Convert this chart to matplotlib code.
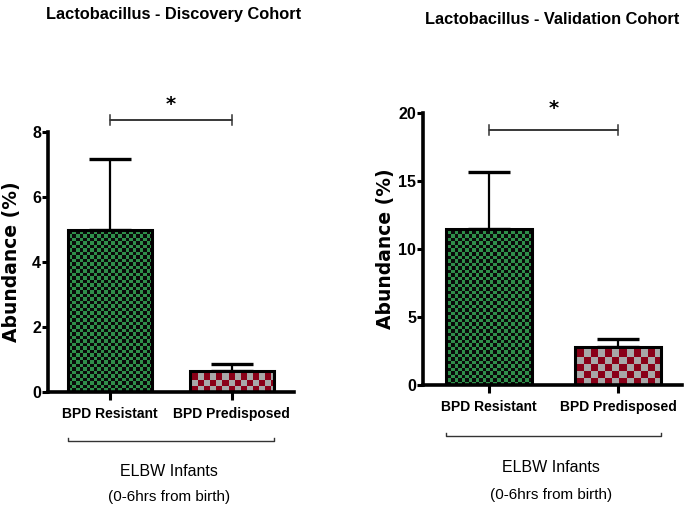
import numpy as np
import matplotlib
matplotlib.use('Agg')
import matplotlib.pyplot as plt
import matplotlib.transforms as mtransforms

# data
groups = ['BPD Resistant', 'BPD Predisposed']
disc_mean = [5.0, 0.65]
disc_err = [2.17, 0.21]
val_mean = [11.47, 2.82]
val_err = [4.19, 0.56]
disc_ticks = [0, 2, 4, 6, 8]
val_ticks = [0, 5, 10, 15, 20]

NARROW = ['Liberation Sans', 'DejaVu Sans']
WIDE = ['DejaVu Sans']

GREEN = ('#2f8f4a', '#0a0a0a')
RED = ('#8a0018', '#a8a8a8')

fig = plt.figure(figsize=(6.85, 5.16), dpi=100)


def checker(ax, bar, colors, cell):
    fig.canvas.draw()
    bb = ax.get_window_extent()
    nx = int(bb.width / cell) + 1
    ny = int(bb.height / cell) + 1
    yy, xx = np.mgrid[0:ny, 0:nx]
    pat = ((xx + yy) % 2).astype(float)
    cmap = matplotlib.colors.ListedColormap(list(colors))
    im = ax.imshow(pat, cmap=cmap, extent=(0, nx * cell / bb.width, 0, ny * cell / bb.height),
                   transform=ax.transAxes, aspect='auto', interpolation='nearest',
                   origin='lower', zorder=2)
    im.set_clip_path(bar)


def panel(rect, means, errs, ticks, title, title_xy, ylab_x, star_y, bracket_y, xlim, width, cells):
    ax = fig.add_axes(rect)
    x = np.arange(len(groups))
    ax.errorbar(x, means, yerr=[np.zeros(len(errs)), errs], fmt='none', ecolor='black',
                elinewidth=1.6, capsize=15, capthick=2.4, zorder=1)
    bars = ax.bar(x, means, width=width, facecolor='none', edgecolor='black', linewidth=2.2, zorder=3)
    ax.set_xlim(*xlim)
    ax.set_ylim(ticks[0], ticks[-1])
    ax.set_yticks(ticks)
    ax.set_yticklabels([str(t) for t in ticks], family=NARROW, fontweight='bold', fontsize=11.5)
    ax.set_xticks(x)
    ax.set_xticklabels(groups, family=NARROW, fontweight='bold', fontsize=10)
    ax.tick_params(axis='y', length=4, width=2.2, pad=1)
    ax.tick_params(axis='x', length=6, width=2.2, pad=5)
    for s in ['top', 'right']:
        ax.spines[s].set_visible(False)
    for s in ['left', 'bottom']:
        ax.spines[s].set_linewidth(2.6)
    fig.canvas.draw()
    for b, c, cell in zip(bars, [GREEN, RED], cells):
        checker(ax, b, c, cell)

    # significance bracket
    h = (ticks[-1] - ticks[0]) * 0.018
    ax.plot([0, 0, 1, 1], [bracket_y - h, bracket_y, bracket_y, bracket_y - h],
            color='#333333', lw=1.1, clip_on=False)
    ax.plot([0, 0, 1, 1], [bracket_y + h, bracket_y, bracket_y, bracket_y + h],
            color='#333333', lw=1.1, clip_on=False)
    ax.text(0.5, star_y, '*', ha='center', va='center', fontsize=14, fontweight='bold',
            family=WIDE, clip_on=False)

    # group bracket below
    tr = mtransforms.blended_transform_factory(ax.transData, ax.transAxes)
    x0, x1 = -width / 2, 1 + width / 2
    ax.plot([x0, x0, x1, x1], [-0.178, -0.188, -0.188, -0.178], color='#333333', lw=1.0,
            transform=tr, clip_on=False)
    ax.text(0.48, -0.305, 'ELBW Infants', transform=tr, ha='center', va='center',
            family=NARROW, fontsize=11.5)
    ax.text(0.48, -0.405, '(0-6hrs from birth)', transform=tr, ha='center', va='center',
            family=NARROW, fontsize=11)

    fig.text(title_xy[0], title_xy[1], title, ha='center', va='center', family=NARROW,
             fontweight='bold', fontsize=11.8)
    fig.text(ylab_x, rect[1] + rect[3] / 2, 'Abundance (%)', rotation=90, ha='center',
             va='center', family=WIDE, fontweight='bold', fontsize=13.5)
    return ax


panel([48 / 685, 124 / 516, 246 / 685, 260 / 516], disc_mean, disc_err, disc_ticks,
      'Lactobacillus - Discovery Cohort', (174 / 685, 1 - 14 / 516), 12 / 685,
      8.85, 8.37, (-0.51, 1.51), 0.69, (3.5, 6))
panel([423 / 685, 131 / 516, 259 / 685, 272 / 516], val_mean, val_err, val_ticks,
      'Lactobacillus - Validation Cohort', (552 / 685, 1 - 19 / 516), 386 / 685,
      20.35, 18.75, (-0.512, 1.496), 0.67, (3.5, 7))

fig.savefig('out.png', dpi=100)
